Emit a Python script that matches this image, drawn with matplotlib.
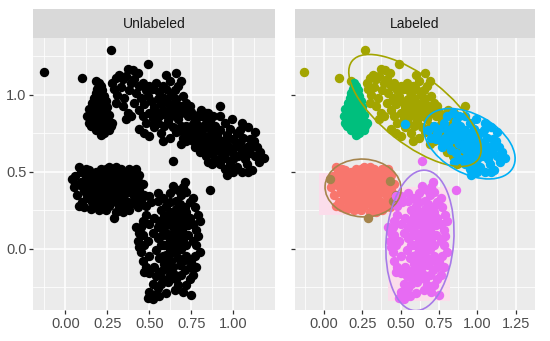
import numpy as np
import matplotlib
matplotlib.use("Agg")
import matplotlib.pyplot as plt
from matplotlib.patches import Ellipse, Rectangle

plt.rcParams['font.family'] = ['Liberation Sans', 'DejaVu Sans']

# ---------------- data ----------------
panel_titles = ["Unlabeled", "Labeled"]
y_ticks = [0.0, 0.5, 1.0]
y_ticklabels = ["0.0", "0.5", "1.0"]
x_ticks_left = [0.0, 0.25, 0.5, 0.75, 1.0]
x_ticks_right = [0.0, 0.25, 0.5, 0.75, 1.0, 1.25]

green_pts = [(0.20,1.08),(0.21,1.06),(0.19,1.04),(0.22,1.03),(0.18,1.01),(0.20,1.00),(0.23,0.99),(0.17,0.98),
             (0.21,0.97),(0.19,0.96),(0.24,0.96),(0.16,0.95),(0.22,0.94),(0.18,0.93),(0.20,0.92),(0.25,0.92),
             (0.14,0.91),(0.17,0.90),(0.22,0.90),(0.19,0.89),(0.24,0.89),(0.15,0.88),(0.21,0.87),(0.26,0.87),
             (0.13,0.86),(0.18,0.86),(0.23,0.85),(0.16,0.84),(0.20,0.84),(0.25,0.83),(0.14,0.82),(0.19,0.82),
             (0.22,0.81),(0.17,0.80),(0.27,0.80),(0.20,0.79),(0.24,0.78),(0.18,0.77),(0.22,0.76),(0.21,0.74),
             (0.23,0.75),(0.26,0.77),(0.15,0.80),(0.18,0.94),(0.21,0.91),(0.16,0.87),(0.20,0.86),(0.23,0.93),
             (0.19,1.02),(0.22,0.97),(0.28,0.82),(0.25,0.85),(0.20,1.06),(0.17,0.92),(0.24,0.81)]

olive_pts = [(-0.13,1.15),(0.27,1.29),(0.10,1.11),(0.18,1.09),(0.49,1.20),(0.92,0.93),(0.97,0.49),(0.91,0.56),
             (0.85,0.88),(0.66,1.14),(0.60,1.13),
             (0.28,1.08),(0.30,1.11),(0.32,1.13),(0.34,1.10),(0.37,1.17),(0.40,1.16),(0.43,1.14),(0.36,1.12),
             (0.39,1.08),(0.29,1.04),(0.31,1.00),(0.33,1.05),(0.35,0.98),(0.38,1.03),(0.41,1.10),(0.44,1.06),
             (0.42,1.01),(0.30,0.95),(0.34,0.93),(0.37,0.88),(0.36,0.84),(0.39,0.86),(0.41,0.95),
             (0.46,1.08),(0.48,1.03),(0.50,1.06),(0.52,1.04),(0.54,1.08),(0.56,1.02),(0.58,1.06),(0.60,1.04),
             (0.62,1.09),(0.45,0.98),(0.47,0.94),(0.49,0.99),(0.51,0.96),(0.53,0.92),(0.55,0.97),(0.57,0.94),
             (0.59,0.98),(0.61,0.95),(0.63,1.00),(0.65,1.03),(0.67,1.06),(0.69,1.09),(0.44,0.90),(0.46,0.86),
             (0.48,0.82),(0.50,0.88),(0.52,0.85),(0.54,0.89),(0.56,0.86),(0.58,0.90),(0.60,0.87),(0.62,0.91),
             (0.64,0.94),(0.66,0.97),(0.68,0.93),(0.70,0.99),(0.72,0.95),(0.44,0.78),(0.47,0.75),(0.50,0.73),
             (0.53,0.79),(0.57,0.75),(0.55,0.82),(0.59,0.80),(0.61,0.83),(0.63,0.86),(0.65,0.89),(0.67,0.84),
             (0.69,0.88),(0.71,0.91),(0.73,0.86),(0.75,0.89),(0.77,0.84),(0.79,0.87),(0.81,0.90),(0.74,0.93),
             (0.64,0.79),(0.66,0.76),(0.69,0.80),(0.71,0.74),(0.73,0.78),(0.69,0.68),(0.72,0.70),(0.76,0.81),
             (0.78,0.76),(0.82,0.80),(0.84,0.84),(0.80,0.72),(0.87,0.55),(0.62,0.72),(0.58,0.70),(0.75,0.71),
             (0.78,0.70),(0.82,0.66),(0.86,0.68),(0.88,0.62),(0.84,0.60),(0.90,0.64),(0.93,0.68),(0.80,0.63),
             (0.76,0.74),(0.86,0.74),(0.89,0.70),(0.95,0.63),(0.83,0.70)]

blue_pts = [(0.53,0.81),(0.68,0.77),(0.70,0.72),(0.72,0.80),(0.74,0.75),(0.76,0.70),(0.75,0.78),(0.78,0.82),
            (0.80,0.77),(0.79,0.72),(0.81,0.68),(0.77,0.66),(0.82,0.74),(0.84,0.79),(0.84,0.88),(0.86,0.83),
            (0.85,0.71),(0.83,0.64),(0.87,0.76),(0.88,0.68),(0.86,0.62),(0.89,0.80),(0.90,0.73),(0.91,0.65),
            (0.89,0.58),(0.92,0.77),(0.93,0.70),(0.94,0.62),(0.92,0.55),(0.95,0.82),(0.96,0.74),(0.97,0.67),
            (0.95,0.59),(0.99,0.84),(0.98,0.78),(1.00,0.71),(0.99,0.63),(0.98,0.55),(1.01,0.66),(1.02,0.75),
            (1.03,0.60),(1.04,0.69),(1.02,0.53),(1.05,0.64),(1.06,0.72),(1.07,0.58),(1.08,0.66),(1.09,0.79),
            (1.10,0.62),(1.11,0.51),(1.12,0.70),(1.13,0.60),(1.14,0.66),(1.16,0.63),(1.18,0.59),(1.08,0.55),
            (1.05,0.50),(0.96,0.48),(1.00,0.58),(0.93,0.60),(0.90,0.68),(0.87,0.71),(1.06,0.61),(1.11,0.67),
            (1.15,0.56),(0.97,0.72),(1.03,0.67),(0.94,0.66),(0.73,0.71),(0.88,0.86),(1.04,0.77),(1.10,0.71),
            (0.80,0.86),(0.92,0.86),(1.05,0.82),(1.13,0.76),(0.85,0.56),(0.95,0.52),(1.00,0.50),(1.09,0.50)]

red_pts = [(0.08,0.53),(0.06,0.42),(0.09,0.43),(0.08,0.28),(0.15,0.26),(0.42,0.52),(0.43,0.27),
           (0.26,0.53),(0.21,0.52),(0.12,0.47),(0.11,0.38),(0.13,0.33),(0.10,0.30),(0.15,0.44),(0.14,0.39),
           (0.16,0.35),(0.17,0.48),(0.18,0.41),(0.19,0.31),(0.20,0.45),(0.21,0.37),(0.22,0.28),(0.23,0.49),
           (0.24,0.42),(0.25,0.34),(0.26,0.46),(0.27,0.39),(0.28,0.30),(0.29,0.50),(0.30,0.43),(0.31,0.35),
           (0.32,0.27),(0.33,0.47),(0.34,0.40),(0.35,0.32),(0.36,0.49),(0.37,0.44),(0.38,0.37),(0.39,0.29),
           (0.40,0.41),(0.41,0.34),(0.44,0.38),(0.17,0.27),(0.24,0.25),(0.34,0.24),(0.19,0.38),
           (0.23,0.35),(0.27,0.33),(0.30,0.37),(0.25,0.40),(0.22,0.43),(0.35,0.36),(0.32,0.42),(0.12,0.41),
           (0.16,0.30),(0.38,0.47),(0.40,0.49),(0.26,0.28),(0.20,0.34),(0.29,0.46),(0.14,0.51),
           (0.33,0.52),(0.18,0.50),(0.37,0.30),
           (0.13,0.45),(0.16,0.41),(0.19,0.44),(0.21,0.48),(0.24,0.46),(0.27,0.43),(0.28,0.36),(0.31,0.40),
           (0.33,0.36),(0.36,0.40),(0.39,0.43),(0.42,0.40),(0.41,0.46),(0.35,0.45),(0.29,0.40),(0.23,0.39),
           (0.18,0.35),(0.15,0.33),(0.21,0.32),(0.25,0.30),(0.30,0.31),(0.33,0.31),(0.36,0.27),(0.40,0.37),
           (0.12,0.36),(0.10,0.41),(0.27,0.49),(0.32,0.49),(0.24,0.52),(0.19,0.49),
           (0.05,0.40),(0.07,0.35),(0.06,0.47),(0.09,0.50),(0.44,0.48),(0.46,0.42),(0.45,0.35),(0.43,0.31),
           (0.11,0.27),(0.20,0.25),(0.30,0.24),(0.38,0.25),(0.12,0.52),(0.30,0.53),(0.38,0.52)]

brown_pts = [(0.04,0.45),(0.29,0.20),(0.45,0.31),(0.47,0.35),(0.43,0.44)]

purple_pts = [(0.64,0.57),(0.86,0.38),(0.71,0.43),(0.64,0.41),(0.47,0.34),(0.42,0.14),(0.44,0.01),(0.49,-0.32),
              (0.52,-0.33),(0.56,-0.31),(0.75,-0.30),(0.65,-0.27),(0.70,-0.28),(0.76,-0.17),(0.80,-0.02),
              (0.79,0.22),(0.51,0.30),(0.55,0.31),(0.58,0.33),(0.60,0.28),(0.62,0.24),(0.66,0.31),(0.69,0.35),
              (0.72,0.37),(0.74,0.30),(0.77,0.27),(0.48,0.22),(0.50,0.16),(0.53,0.20),(0.56,0.18),(0.59,0.21),
              (0.63,0.15),(0.66,0.19),(0.68,0.24),(0.71,0.20),(0.73,0.15),(0.46,0.09),(0.49,0.05),(0.52,0.10),
              (0.55,0.07),(0.58,0.12),(0.61,0.08),(0.64,0.04),(0.67,0.10),(0.70,0.06),(0.73,0.09),(0.76,0.05),
              (0.45,-0.02),(0.50,-0.05),(0.54,-0.01),(0.57,0.02),(0.60,-0.04),(0.63,-0.08),(0.66,-0.02),
              (0.69,0.00),(0.72,-0.05),(0.75,-0.09),(0.53,-0.12),(0.56,-0.15),(0.59,-0.10),(0.62,-0.13),
              (0.65,-0.17),(0.68,-0.11),(0.71,-0.14),(0.58,-0.20),(0.61,-0.22),(0.64,-0.19),(0.67,-0.24),
              (0.55,-0.26),(0.60,-0.29),(0.50,-0.16),(0.47,-0.15),(0.52,-0.23),(0.62,0.00),(0.65,0.13),
              (0.61,0.18),(0.68,0.29),(0.57,0.25),(0.70,0.14),(0.59,0.02),(0.63,-0.03),(0.66,0.06),
              (0.74,-0.12),(0.78,0.12),(0.62,0.36),(0.67,0.38),(0.71,0.27),
              (0.60,0.10),(0.63,0.20),(0.65,0.24),(0.67,0.15),(0.69,0.19),(0.62,0.05),(0.64,0.10),(0.66,0.01),
              (0.68,0.04),(0.70,0.10),(0.61,-0.07),(0.64,-0.12),(0.67,-0.06),(0.70,-0.08),(0.58,-0.05),
              (0.57,0.08),(0.55,0.14),(0.60,0.15),(0.62,0.30),(0.66,0.26),(0.72,0.24),(0.74,0.20),(0.72,0.02),
              (0.56,-0.06),(0.62,-0.17),(0.58,-0.14),(0.66,-0.20),(0.69,-0.17),(0.54,-0.18),(0.57,-0.23),
              (0.44,0.10),(0.43,0.05),(0.45,0.14),(0.46,-0.08),(0.47,0.02),(0.48,-0.12),(0.46,0.18),
              (0.78,0.02),(0.77,-0.05),(0.79,0.08),(0.76,0.16),(0.80,0.18),(0.78,-0.12),(0.74,-0.20),
              (0.50,-0.28),(0.53,-0.30),(0.72,-0.24),(0.48,0.28),(0.50,0.34),(0.76,0.33),(0.55,0.36),
              (0.70,0.40)]

# ---------------- styling ----------------
W, H = 550, 341
fig = plt.figure(figsize=(W/100, H/100), dpi=100)
fig.patch.set_facecolor('white')

BG = '#EBEBEB'
STRIP = '#D9D9D9'
C_RED, C_OLIVE, C_GREEN, C_BLUE, C_PURPLE = '#F8766D', '#A3A500', '#00BF7D', '#00B0F6', '#E76BF3'
C_BROWN = '#A5844C'
C_PURPLE_ELL = '#A77AE8'
MS = 46

def style_panel(ax, xlim, xticks, show_y):
    ax.set_facecolor(BG)
    ax.set_xlim(*xlim)
    ax.set_ylim(-0.40, 1.37)
    for s in ax.spines.values():
        s.set_visible(False)
    ax.set_xticks(xticks)
    ax.set_xticklabels([f"{t:.2f}" for t in xticks])
    xt = np.array(xticks)
    ax.set_xticks(list(xt[:-1] + 0.125) + [xt[0] - 0.125, xt[-1] + 0.125], minor=True)
    ax.set_yticks(y_ticks)
    ax.set_yticks([-0.25, 0.25, 0.75, 1.25], minor=True)
    if show_y:
        ax.set_yticklabels(y_ticklabels)
    else:
        ax.tick_params(axis='y', which='major', length=0, labelleft=False)
    ax.grid(True, which='major', color='white', linewidth=1.1)
    ax.grid(True, which='minor', color='white', linewidth=0.55)
    ax.set_axisbelow(True)
    ax.tick_params(axis='both', which='major', labelsize=10.5, labelcolor='#4D4D4D',
                   color='#333333', length=2.75, width=0.9, pad=2)
    ax.tick_params(axis='both', which='minor', length=0)

def add_strip(rect, text):
    sax = fig.add_axes(rect)
    sax.set_facecolor(STRIP)
    sax.set_xticks([]); sax.set_yticks([])
    for s in sax.spines.values():
        s.set_visible(False)
    sax.text(0.5, 0.5, text, ha='center', va='center', fontsize=10, color='#1A1A1A',
             transform=sax.transAxes)

def robust_cov(a, nu=5, iters=100):
    # multivariate-t robust estimate (as in MASS::cov.trob)
    n, p = a.shape
    m = a.mean(axis=0)
    S = np.cov(a.T)
    for _ in range(iters):
        d = a - m
        d2 = np.einsum('ij,jk,ik->i', d, np.linalg.inv(S), d)
        w = (nu + p) / (nu + d2)
        m = (w[:, None] * a).sum(axis=0) / w.sum()
        d = a - m
        S = (w[:, None] * d).T @ d / n
    return m, S

def ellipse_from(pts, color, ax, r=2.486):
    a = np.array(pts)
    m, cov = robust_cov(a)
    vals, vecs = np.linalg.eigh(cov)
    order = vals.argsort()[::-1]
    vals, vecs = vals[order], vecs[:, order]
    ang = np.degrees(np.arctan2(vecs[1, 0], vecs[0, 0]))
    e = Ellipse(m, 2*r*np.sqrt(vals[0]), 2*r*np.sqrt(vals[1]), angle=ang,
                fill=False, edgecolor=color, linewidth=1.2, zorder=5)
    ax.add_patch(e)

pb, ph = 31/H, 272/H
left_ax = fig.add_axes([33/W, pb, 242/W, ph])
right_ax = fig.add_axes([295/W, pb, 240/W, ph])
add_strip([33/W, (pb + ph), 242/W, 29/H], panel_titles[0])
add_strip([295/W, (pb + ph), 240/W, 29/H], panel_titles[1])

style_panel(left_ax, (-0.193, 1.248), x_ticks_left, True)
style_panel(right_ax, (-0.187, 1.276), x_ticks_right, False)

groups = [(red_pts, C_RED), (brown_pts, C_BROWN), (olive_pts, C_OLIVE), (green_pts, C_GREEN),
          (blue_pts, C_BLUE), (purple_pts, C_PURPLE)]

# left: all points in black
for pts, _ in groups:
    a = np.array(pts)
    left_ax.scatter(a[:, 0], a[:, 1], s=MS, color='black', linewidths=0, zorder=3)

# right: faint pink halo behind red and purple clusters
right_ax.add_patch(Rectangle((-0.03, 0.22), 0.51, 0.27, facecolor='#FBDDEB', edgecolor='none', zorder=1))
right_ax.add_patch(Rectangle((0.42, -0.34), 0.40, 0.74, facecolor='#FBDDEB', edgecolor='none', zorder=1))

for pts, c in [(red_pts, C_RED), (brown_pts, C_BROWN), (olive_pts, C_OLIVE), (blue_pts, C_BLUE),
               (green_pts, C_GREEN), (purple_pts, C_PURPLE)]:
    a = np.array(pts)
    right_ax.scatter(a[:, 0], a[:, 1], s=MS, color=c, linewidths=0, zorder=3)

ellipse_from(red_pts, C_BROWN, right_ax)
ellipse_from(olive_pts, C_OLIVE, right_ax)
ellipse_from(blue_pts, C_BLUE, right_ax)
ellipse_from(purple_pts, C_PURPLE_ELL, right_ax)

fig.savefig('out.png', dpi=100)
